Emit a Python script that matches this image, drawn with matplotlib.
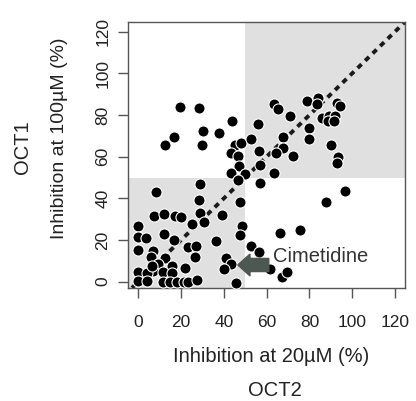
# OCT2 vs OCT1 inhibition scatter

import numpy as np
import matplotlib
matplotlib.use('Agg')
import matplotlib.pyplot as plt
from matplotlib.patches import Rectangle, FancyArrow

plt.rcParams['font.family'] = ['Liberation Sans', 'DejaVu Sans']

# data (inhibition %)
oct2 = [19.5, 28.5, 30.4, 37.8, 16.9, 12.5, 29.8, 43.9, 45.2, 47.8,
        43.4, 46.4, 46.9, 43.5, 49.9, 46.6,
        52.6, 55.9, 56.3, 57.0, 63.5, 65.3, 70.8, 67.5, 67.6, 64.4,
        72.2, 63.6, 78.7, 84.2, 83.6, 79.6, 80.0, 85.8, 89.3, 92.0,
        88.5, 91.5, 93.0, 94.5, 90.2, 93.2, 93.0,
        56.9, 96.6, 87.7, 66.2, 75.7, 52.8, 56.3, 61.5, 67.4, 69.3,
        8.3, 28.8, 28.5, 28.8, 30.6, 47.5, 38.9, 7.2, 12.1, 17.1,
        19.8, 24.9, 48.7, 47.5, 0.0, 0.0, 3.4, 0.0, 12.1, 16.8,
        23.4, 27.0, 36.3, 7.0, 6.0, 12.5, 9.3, 15.6, 7.0, 11.7,
        15.6, 21.8, 26.5, 41.0, 43.2, 40.1, 0.0, 3.9, 0.0, 3.9,
        11.7, 14.8, 17.9, 21.5, 23.4, 27.3, 45.5, 6.2]
oct1 = [83.7, 83.5, 72.2, 71.2, 69.6, 65.6, 65.6, 77.3, 65.6, 66.8,
        61.6, 60.4, 55.5, 52.2, 51.8, 48.6,
        68.7, 75.8, 62.9, 56.2, 85.5, 82.7, 79.3, 69.4, 64.3, 61.8,
        60.4, 52.2, 86.9, 88.2, 85.4, 73.6, 68.7, 78.8, 79.4, 79.5,
        76.9, 77.2, 85.9, 84.2, 65.6, 59.8, 56.9,
        47.5, 43.7, 38.2, 23.5, 24.8, 17.2, 14.1, 6.3, 2.4, 4.8,
        43.2, 46.9, 39.2, 33.1, 28.5, 38.4, 31.8, 31.7, 32.4, 31.7,
        31.2, 27.5, 26.6, 22.2, 26.5, 21.4, 20.8, 15.3, 22.7, 19.8,
        16.7, 17.0, 19.5, 14.8, 11.8, 11.2, 8.3, 7.4, 5.3, 4.8,
        4.0, 6.5, 11.9, 11.2, 8.4, 6.2, 4.8, 4.0, 0.3, 0.3,
        0.0, 0.0, 0.0, -0.3, 0.0, 1.0, -0.5, 7.6]

cut = 50
ticks = [0, 20, 40, 60, 80, 100, 120]
xlim = (-4.7, 124.7)
ylim = (-3.2, 124.8)

# cimetidine arrow (tail x, head x, y) and label
arrow_tail = 61.0
arrow_head = 46.5
arrow_y = 8.0
label_x = 63.0
label_y = 12.0

grey = '#dfe0df'
frame = '#555555'

fig = plt.figure(figsize=(4.16, 4.01), dpi=100)
ax = fig.add_axes([0.3084, 0.281, 0.6652, 0.6649])
ax.set_xlim(*xlim)
ax.set_ylim(*ylim)

# shaded quadrants
ax.add_patch(Rectangle((xlim[0], ylim[0]), cut - xlim[0], cut - ylim[0],
                       facecolor=grey, edgecolor='none', zorder=0))
ax.add_patch(Rectangle((cut, cut), xlim[1] - cut, ylim[1] - cut,
                       facecolor=grey, edgecolor='none', zorder=0))

# identity line
diag = np.array([-10, 130])
ax.plot(diag, diag, color='#1a1a1a', lw=2.8, linestyle=(0, (1.4, 1.3)), zorder=1)

ax.scatter(oct2, oct1, s=64, facecolor='black', edgecolor='white',
           linewidth=0.8, zorder=3, clip_on=False)

ax.add_patch(FancyArrow(arrow_tail, arrow_y, arrow_head - arrow_tail, 0,
                        width=6.3, head_width=10.5, head_length=5.7,
                        length_includes_head=True, color='#4d5852',
                        zorder=4))
ax.text(label_x, label_y, 'Cimetidine', fontsize=14.5, color='#333333',
        ha='left', va='center', zorder=5)

ax.set_xticks(ticks)
ax.set_yticks(ticks)
ax.tick_params(direction='out', length=7, width=1, color=frame,
               labelsize=12.5, labelcolor='#222222')
ax.tick_params(axis='x', pad=12)
ax.tick_params(axis='y', pad=6, labelrotation=90)
for lab in ax.get_yticklabels():
    lab.set_verticalalignment('center')
for sp in ax.spines.values():
    sp.set_color(frame)
    sp.set_linewidth(1)

fig.text(0.652, 0.11, 'Inhibition at 20\u00b5M (%)', fontsize=14.5,
         color='#222222', ha='center', va='center')
fig.text(0.661, 0.027, 'OCT2', fontsize=14.5, color='#222222',
         ha='center', va='center')
fig.text(0.142, 0.655, 'Inhibition at 100\u00b5M (%)', fontsize=14,
         color='#222222', ha='center', va='center', rotation=90)
fig.text(0.054, 0.634, 'OCT1', fontsize=14.5, color='#222222',
         ha='center', va='center', rotation=90)

fig.savefig('out.png', dpi=100)
